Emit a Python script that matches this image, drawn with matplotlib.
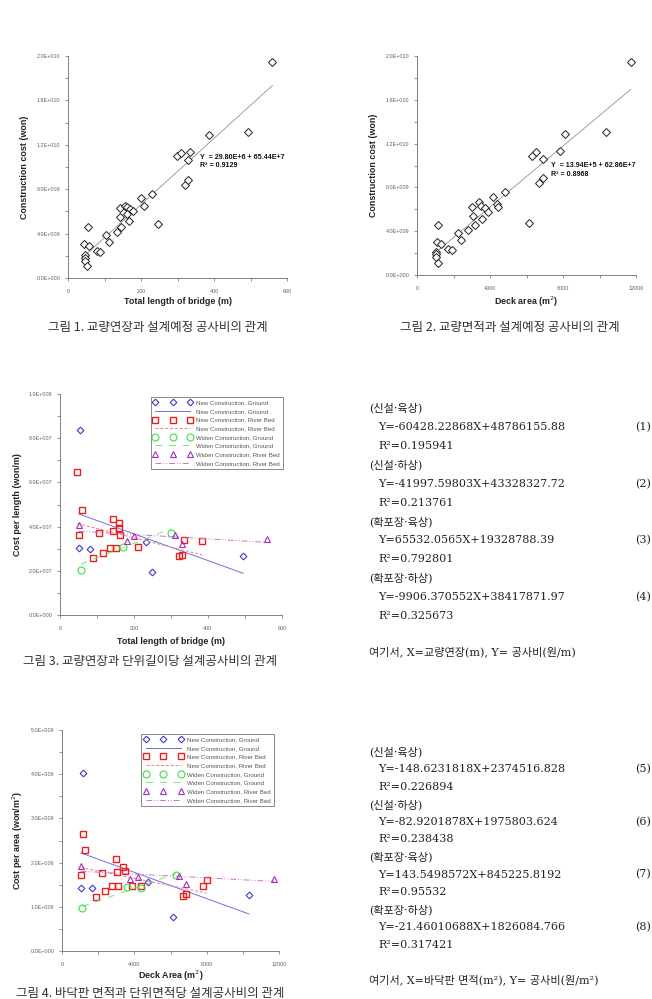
import numpy as np
import matplotlib.pyplot as plt
from matplotlib.ticker import MultipleLocator, FuncFormatter

plt.rcParams['font.family'] = ['Liberation Sans', 'Noto Sans CJK KR']

# ---- Fig 1 / Fig 2 : total cost vs length / deck area ----
len1 = [560, 386, 493, 298, 309, 334, 330, 320, 330, 229, 199, 209, 142, 156, 162, 170,
        179, 142, 161, 168, 144, 133, 104, 113, 54, 45, 58, 79, 88, 47, 47, 47, 53, 246]
cost1 = [1.944e10, 1.29e10, 1.317e10, 1.098e10, 1.122e10, 1.134e10, 1.059e10, 8.4e9, 8.85e9,
         7.54e9, 7.18e9, 6.49e9, 6.28e9, 6.51e9, 6.37e9, 6.22e9, 6.06e9, 5.52e9, 5.77e9, 5.16e9,
         4.62e9, 4.12e9, 3.87e9, 3.27e9, 4.62e9, 3.06e9, 2.88e9, 2.43e9, 2.32e9, 2.07e9, 1.77e9,
         1.53e9, 1.08e9, 4.84e9]
fit1 = (29.80e6, 65.44e7)

area2 = [11706, 10334, 8084, 7810, 6530, 6310, 6877, 6895, 6694, 6146, 4822, 4182, 4366, 4420,
         3416, 3489, 3726, 3908, 2995, 3086, 3580, 3178, 2813, 2228, 2411, 1169, 1114, 1297,
         1717, 1900, 1023, 1023, 1023, 1169]
cost2 = [1.943e10, 1.31e10, 1.286e10, 1.131e10, 1.119e10, 1.09e10, 1.055e10, 8.88e9, 8.37e9,
         4.72e9, 7.61e9, 7.10e9, 6.48e9, 6.24e9, 6.64e9, 6.33e9, 6.09e9, 5.78e9, 6.18e9, 5.42e9,
         5.11e9, 4.57e9, 4.11e9, 3.81e9, 3.2e9, 4.57e9, 2.99e9, 2.80e9, 2.35e9, 2.28e9, 2.13e9,
         1.89e9, 1.67e9, 1.07e9]
fit2 = (13.94e5, 62.86e7)

# ---- Fig 3 : cost per length ----
groups = ['New Construction, Ground', 'New Construction, River Bed',
          'Widen Construction, Ground', 'Widen Construction, River Bed']
x3_ng = [55, 51, 81, 232, 248, 495]
y3_ng = [8.39e7, 3.02e7, 2.99e7, 3.29e7, 1.93e7, 2.65e7]
x3_nr = [47, 59, 51, 105, 144, 160, 160, 144, 162, 210, 135, 151, 115, 90, 335, 322, 331, 385]
y3_nr = [6.45e7, 4.75e7, 3.62e7, 3.70e7, 4.34e7, 4.15e7, 3.95e7, 3.80e7, 3.62e7, 3.09e7,
         3.05e7, 3.05e7, 2.82e7, 2.59e7, 3.39e7, 2.67e7, 2.71e7, 3.33e7]
x3_wg = [56, 171, 300]
y3_wg = [2.04e7, 3.09e7, 3.70e7]
x3_wr = [50, 180, 200, 311, 329, 559]
y3_wr = [4.07e7, 3.36e7, 3.59e7, 3.62e7, 3.20e7, 3.45e7]
slope3 = [-60428.22868, -41997.59803, 65532.0565, -9906.370552]
icept3 = [48786155.88, 43328327.72, 19328788.39, 38417871.97]

# ---- Fig 4 : cost per deck area ----
x4_ng = [1143, 1034, 1642, 4774, 6157, 10340]
y4_ng = [4.02e6, 1.42e6, 1.42e6, 1.57e6, 7.8e5, 1.26e6]
x4_nr = [1161, 1272, 1034, 2986, 2195, 3391, 3023, 3484, 2378, 1880, 2746, 3116, 3889, 4350,
         6672, 6857, 7815, 8000]
y4_nr = [2.65e6, 2.28e6, 1.73e6, 2.08e6, 1.76e6, 1.91e6, 1.79e6, 1.81e6, 1.36e6, 1.23e6,
         1.46e6, 1.46e6, 1.47e6, 1.47e6, 1.25e6, 1.28e6, 1.46e6, 1.61e6]
x4_wg = [1125, 3576, 4350, 6304]
y4_wg = [9.8e5, 1.44e6, 1.42e6, 1.73e6]
x4_wr = [1034, 3760, 4184, 6488, 6838, 11721]
y4_wr = [1.93e6, 1.63e6, 1.68e6, 1.70e6, 1.52e6, 1.64e6]
slope4 = [-148.6231818, -82.9201878, 143.5498572, -21.46010688]
icept4 = [2374516.828, 1975803.624, 845225.8192, 1826084.766]

eq3_lines = ['(신설·육상)', 'Y=-60428.22868X+48786155.88', 'R²=0.195941',
             '(신설·하상)', 'Y=-41997.59803X+43328327.72', 'R²=0.213761',
             '(확포장·육상)', 'Y=65532.0565X+19328788.39', 'R²=0.792801',
             '(확포장·하상)', 'Y=-9906.370552X+38417871.97', 'R²=0.325673']
eq4_lines = ['(신설·육상)', 'Y=-148.6231818X+2374516.828', 'R²=0.226894',
             '(신설·하상)', 'Y=-82.9201878X+1975803.624', 'R²=0.238438',
             '(확포장·육상)', 'Y=143.5498572X+845225.8192', 'R²=0.95532',
             '(확포장·하상)', 'Y=-21.46010688X+1826084.766', 'R²=0.317421']

W, H = 652, 999
fig = plt.figure(figsize=(W / 100, H / 100), dpi=100)


def add_ax(l, t, r, b):
    ax = fig.add_axes([l / W, 1 - b / H, (r - l) / W, (b - t) / H])
    ax._box = (l, t, r, b)
    return ax


def sci(v, pos):
    if abs(v) < 1e-9:
        return '0.0E+000'
    e = int(np.floor(np.log10(abs(v)) + 1e-9))
    return f'{v / 10 ** e:.1f}E{e:+04d}'


def style(ax, xmax, xmaj, xmin, ymax, ymaj, ymin, xlab, ylab, xlab_y, ylab_x):
    l, t, r, b = ax._box
    ax.set_xlim(0, xmax)
    ax.set_ylim(0, ymax)
    for s in ['top', 'right']:
        ax.spines[s].set_visible(False)
    for s in ['left', 'bottom']:
        ax.spines[s].set_color('#808080')
        ax.spines[s].set_linewidth(0.7)
    ax.xaxis.set_major_locator(MultipleLocator(xmaj))
    ax.xaxis.set_minor_locator(MultipleLocator(xmin))
    ax.yaxis.set_major_locator(MultipleLocator(ymaj))
    ax.yaxis.set_minor_locator(MultipleLocator(ymin))
    ax.yaxis.set_major_formatter(FuncFormatter(sci))
    ax.tick_params(which='both', direction='out', length=2.2, width=0.6, color='#808080',
                   labelsize=3.9, labelcolor='#606060')
    ax.tick_params(axis='x', pad=6)
    ax.tick_params(axis='y', pad=3.2)
    ax.set_xlabel(xlab, fontsize=6.4, fontweight='bold', color='#222222', va='center')
    ax.set_ylabel(ylab, fontsize=6.4, fontweight='bold', color='#222222', va='center')
    ax.xaxis.set_label_coords(0.5, (b - xlab_y) / (b - t))
    ax.yaxis.set_label_coords((ylab_x - l) / (r - l), 0.5)


def pix_text(x, y, s, **kw):
    fig.text(x / W, 1 - y / H, s, **kw)


# Fig 1
ax1 = add_ax(68, 56, 287, 278)
xs = np.array([min(len1), max(len1)])
ax1.plot(xs, fit1[0] * xs + fit1[1], color='#a0a0a0', lw=0.7)
ax1.plot(len1, cost1, ls='none', marker='D', ms=4.3, mfc='white', mec='#222222', mew=0.7)
style(ax1, 600, 200, 100, 2e10, 4e9, 2e9, 'Total length of bridge (m)', 'Construction cost (won)', 302, 25)
ax1.text(0.603, 0.545, 'Y  = 29.80E+6 + 65.44E+7', transform=ax1.transAxes, fontsize=5.1,
         fontweight='bold', va='center', color='#111111')
ax1.text(0.603, 0.505, 'R² = 0.9129', transform=ax1.transAxes, fontsize=5.1,
         fontweight='bold', va='center', color='#111111')

# Fig 2
ax2 = add_ax(417, 56, 636, 275)
xs = np.array([min(area2), max(area2)])
ax2.plot(xs, fit2[0] * xs + fit2[1], color='#a0a0a0', lw=0.7)
ax2.plot(area2, cost2, ls='none', marker='D', ms=4.3, mfc='white', mec='#222222', mew=0.7)
style(ax2, 12000, 4000, 2000, 2e10, 4e9, 2e9, 'Deck area (m$^2$)', 'Construction cost (won)', 302, 373)
ax2.text(0.612, 0.498, 'Y  = 13.94E+5 + 62.86E+7', transform=ax2.transAxes, fontsize=5.1,
         fontweight='bold', va='center', color='#111111')
ax2.text(0.612, 0.461, 'R² = 0.8968', transform=ax2.transAxes, fontsize=5.1,
         fontweight='bold', va='center', color='#111111')

mk = [dict(marker='D', ms=3.4, mec='#3c3cc8', mew=0.8),
      dict(marker='s', ms=4.8, mec='#e82020', mew=1.0),
      dict(marker='o', ms=5.0, mec='#40dd40', mew=0.8),
      dict(marker='^', ms=4.4, mec='#a030c0', mew=0.8)]
ln = [dict(color='#7070e0', ls='-'),
      dict(color='#f08080', ls=(0, (3, 2))),
      dict(color='#80e080', ls=(0, (7, 7))),
      dict(color='#d070d0', ls=(0, (6, 2, 1, 2, 1, 2)))]


def group_plot(ax, xsets, ysets, slopes, icepts, anchor):
    handles, labels = [], []
    for i in range(4):
        xa = np.array([min(xsets[i]), max(xsets[i])])
        l, = ax.plot(xa, slopes[i] * xa + icepts[i], lw=0.7, **ln[i])
        m, = ax.plot(xsets[i], ysets[i], ls='none', mfc='none', **mk[i])
        handles += [m, l]
        labels += [groups[i], groups[i]]
    leg = ax.legend(handles, labels, loc='upper right', bbox_to_anchor=anchor, borderaxespad=0,
                    numpoints=3, fontsize=4.4, frameon=True, fancybox=False, edgecolor='#555555',
                    handlelength=6.2, handletextpad=0.8, labelspacing=0.55, borderpad=0.5,
                    labelcolor='#555555')
    leg.get_frame().set_linewidth(0.6)


# Fig 3
ax3 = add_ax(60, 394, 282, 615)
group_plot(ax3, [x3_ng, x3_nr, x3_wg, x3_wr], [y3_ng, y3_nr, y3_wg, y3_wr], slope3, icept3,
           (1.005, 0.986))
style(ax3, 600, 200, 100, 1e8, 2e7, 1e7, 'Total length of bridge (m)', 'Cost per length (won/m)', 641, 17)

# Fig 4
ax4 = add_ax(62, 730, 279, 951)
group_plot(ax4, [x4_ng, x4_nr, x4_wg, x4_wr], [y4_ng, y4_nr, y4_wg, y4_wr], slope4, icept4,
           (0.977, 0.982))
style(ax4, 12000, 4000, 2000, 5e6, 1e6, 5e5, 'Deck Area (m$^2$)', 'Cost per area (won/m$^2$)', 976, 18)

# captions
cap = dict(fontsize=9.0, color='#333333', ha='center', va='center', family=['Noto Sans CJK KR'])
pix_text(158, 327, '그림 1. 교량연장과 설계예정 공사비의 관계', **cap)
pix_text(510, 327, '그림 2. 교량면적과 설계예정 공사비의 관계', **cap)
pix_text(150, 661, '그림 3. 교량연장과 단위길이당 설계공사비의 관계', **cap)
pix_text(150, 994, '그림 4. 바닥판 면적과 단위면적당 설계공사비의 관계', **cap)

# regression equation text blocks
body = dict(fontsize=8, color='#222222', va='center', family=['DejaVu Serif', 'Noto Sans CJK KR'])
for lines, y0, dy, foot, fy, n0 in [(eq3_lines, 408, 18.9, '여기서, X=교량연장(m), Y= 공사비(원/m)', 652, 1),
                                    (eq4_lines, 752, 17.5, '여기서, X=바닥판 면적(m²), Y= 공사비(원/m²)', 980, 5)]:
    for i, s in enumerate(lines):
        y = y0 + dy * i
        pix_text(369 if i % 3 == 0 else 378, y, s, **body)
        if i % 3 == 1:
            pix_text(635, y, f'({n0 + i // 3})', **body)
    pix_text(369, fy, foot, **body)

fig.savefig('out.png', dpi=100, facecolor='white')
